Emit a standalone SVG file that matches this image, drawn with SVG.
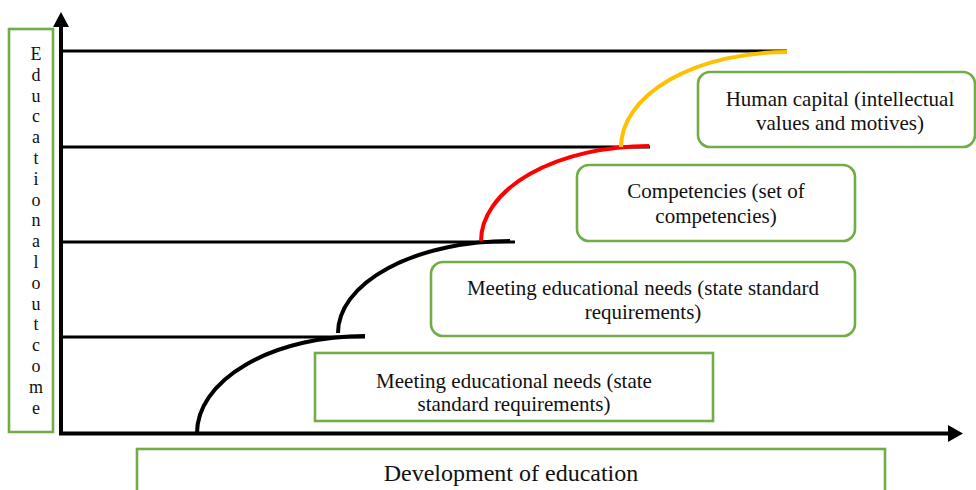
<svg xmlns="http://www.w3.org/2000/svg" width="976" height="490" viewBox="0 0 976 490">
  <defs>
    <style>
      .box { fill: #ffffff; stroke: #70AD47; stroke-width: 2.6; }
      text { font-family: 'Liberation Serif', 'DejaVu Serif', serif; font-size: 21px; fill: #111111; text-anchor: middle; }
      .axis { stroke: #000000; stroke-width: 4; fill: none; }
      .level { stroke: #000000; stroke-width: 3; fill: none; }
      .arc { stroke-width: 4; fill: none; stroke-linecap: butt; }
    </style>
  </defs>

  <rect width="976" height="490" fill="#ffffff"/>

  <!-- vertical axis title, one letter per row -->
  <g id="axis-title">
    <rect class="box" x="9" y="29" width="44" height="403"/>
    <text x="36" y="60" style="font-size:18px"><tspan x="36" y="60">E</tspan><tspan x="36" dy="20.8">d</tspan><tspan x="36" dy="20.8">u</tspan><tspan x="36" dy="20.8">c</tspan><tspan x="36" dy="20.8">a</tspan><tspan x="36" dy="20.8">t</tspan><tspan x="36" dy="20.8">i</tspan><tspan x="36" dy="20.8">o</tspan><tspan x="36" dy="20.8">n</tspan><tspan x="36" dy="20.8">a</tspan><tspan x="36" dy="20.8">l</tspan><tspan x="36" dy="20.8">o</tspan><tspan x="36" dy="20.8">u</tspan><tspan x="36" dy="20.8">t</tspan><tspan x="36" dy="20.8">c</tspan><tspan x="36" dy="20.8">o</tspan><tspan x="36" dy="20.8">m</tspan><tspan x="36" dy="20.8">e</tspan></text>
  </g>

  <!-- axes, level lines and growth arcs -->
  <g id="connectors">
    <line class="axis" x1="61" y1="434" x2="61" y2="24"/>
    <polygon points="61,12 53,27 69,27" fill="#000000"/>
    <line class="axis" x1="59" y1="433.5" x2="950" y2="433.5"/>
    <polygon points="963,433.5 948,425 948,442" fill="#000000"/>

    <line class="level" x1="61" y1="51" x2="787" y2="51"/>
    <line class="level" x1="61" y1="147" x2="650" y2="147"/>
    <line class="level" x1="61" y1="242" x2="515" y2="242"/>
    <line class="level" x1="61" y1="337" x2="365" y2="337"/>

    <path class="arc" stroke="#000000" d="M197,433 A168,97 0 0 1 365,336"/>
    <path class="arc" stroke="#000000" d="M338,333 A172,92 0 0 1 510,241"/>
    <path class="arc" stroke="#FF0000" d="M481,241 A168,95 0 0 1 649,146"/>
    <path class="arc" stroke="#FFC000" d="M621,147 A166,95 0 0 1 787,52"/>
  </g>

  <g id="node-basic-needs">
    <rect class="box" x="315" y="353" width="398" height="68"/>
    <text x="514" y="388">Meeting educational needs (state</text>
    <text x="514" y="411">standard requirements)</text>
  </g>

  <g id="node-educational-needs">
    <rect class="box" x="431" y="262" width="424" height="74" rx="12"/>
    <text x="643" y="295">Meeting educational needs (state standard</text>
    <text x="643" y="319">requirements)</text>
  </g>

  <g id="node-competencies">
    <rect class="box" x="577" y="165" width="278" height="76" rx="12"/>
    <text x="716" y="198">Competencies (set of</text>
    <text x="716" y="223">competencies)</text>
  </g>

  <g id="node-human-capital">
    <rect class="box" x="698" y="72" width="277" height="75" rx="12"/>
    <text x="840" y="106">Human capital (intellectual</text>
    <text x="840" y="130">values and motives)</text>
  </g>

  <g id="node-development">
    <rect class="box" x="137" y="449" width="748" height="60"/>
    <text x="511" y="481" style="font-size:24px">Development of education</text>
  </g>
</svg>
